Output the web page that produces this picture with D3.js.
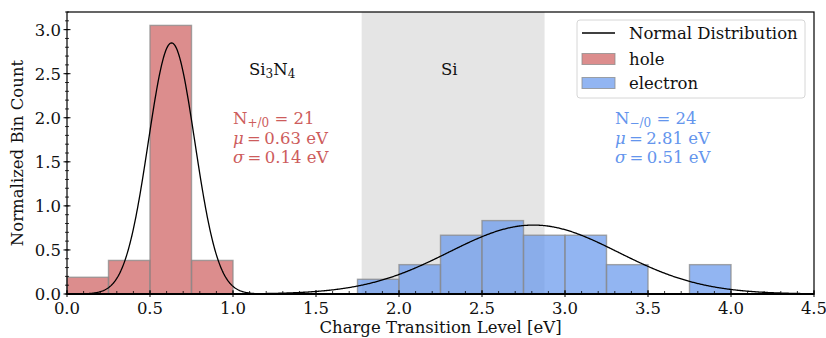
<!DOCTYPE html>
<html>
<head>
<meta charset="utf-8">
<script src="https://cdn.jsdelivr.net/npm/d3@7"></script>
<style>
  body { margin: 0; background: #fff; }
  svg { display: block; font-family: "DejaVu Serif", serif; }
</style>
</head>
<body>
<svg width="826" height="338"></svg>
<script>
  // histogram bins (normalized counts), bin width 0.25 eV
  var holeBins = [0, 0.25, 0.5, 0.75];
  var holeVals = [0.19, 0.381, 3.048, 0.381];
  var elecBins = [1.75, 2.0, 2.25, 2.5, 2.75, 3.0, 3.25, 3.5, 3.75];
  var elecVals = [0.167, 0.333, 0.667, 0.833, 0.667, 0.667, 0.333, 0, 0.333];
  var binWidth = 0.25;

  // fitted normal distributions
  var holeFit = { mu: 0.63, sigma: 0.14, n: 21 };
  var elecFit = { mu: 2.81, sigma: 0.51, n: 24 };

  // Si region
  var siBand = [1.775, 2.877];

  var xTicks = [0, 0.5, 1, 1.5, 2, 2.5, 3, 3.5, 4, 4.5];
  var yTicks = [0, 0.5, 1, 1.5, 2, 2.5, 3];

  var svg = d3.select('svg');
  var pL = 67, pR = 814, pT = 12, pB = 294;
  var fs = 16.5;

  var x = d3.scaleLinear().domain([0, 4.5]).range([pL, pR]);
  var y = d3.scaleLinear().domain([0, 3.2]).range([pB, pT]);

  // shaded Si band
  svg.append('rect')
    .attr('x', x(siBand[0])).attr('y', pT)
    .attr('width', x(siBand[1]) - x(siBand[0])).attr('height', pB - pT)
    .attr('fill', '#e5e5e5');

  function bars(bins, vals, color) {
    svg.append('g').selectAll('rect').data(bins).enter().append('rect')
      .attr('x', function(d) { return x(d); })
      .attr('y', function(d, i) { return y(vals[i]); })
      .attr('width', function(d) { return x(d + binWidth) - x(d); })
      .attr('height', function(d, i) { return pB - y(vals[i]); })
      .attr('fill', color).attr('fill-opacity', 0.7)
      .attr('stroke', '#8a8a8a').attr('stroke-opacity', 0.75).attr('stroke-width', 1.4);
  }
  bars(holeBins, holeVals, 'indianred');
  bars(elecBins, elecVals, 'cornflowerblue');

  // normal curves
  function pdf(v, f) {
    return Math.exp(-0.5 * Math.pow((v - f.mu) / f.sigma, 2)) / (f.sigma * Math.sqrt(2 * Math.PI));
  }
  var xs = d3.range(0, 4.5001, 0.005);
  var line = d3.line().x(function(d) { return x(d[0]); }).y(function(d) { return y(d[1]); });
  [holeFit, elecFit].forEach(function(f) {
    svg.append('path')
      .attr('d', line(xs.map(function(v) { return [v, pdf(v, f)]; })))
      .attr('fill', 'none').attr('stroke', 'black').attr('stroke-width', 1.3);
  });

  // frame
  svg.append('rect').attr('x', pL).attr('y', pT)
    .attr('width', pR - pL).attr('height', pB - pT)
    .attr('fill', 'none').attr('stroke', 'black').attr('stroke-width', 1.2);
  svg.append('line').attr('x1', pL).attr('x2', pR).attr('y1', pB).attr('y2', pB)
    .attr('stroke', 'black').attr('stroke-width', 2.2);

  // x axis ticks
  var xMinor = d3.range(0, 4.501, 0.1);
  svg.append('g').selectAll('line').data(xMinor).enter().append('line')
    .attr('x1', function(d) { return x(d); }).attr('x2', function(d) { return x(d); })
    .attr('y1', pB - 3).attr('y2', pB + 1)
    .attr('stroke', 'black').attr('stroke-width', 0.8);
  svg.append('g').selectAll('line').data(xTicks).enter().append('line')
    .attr('x1', function(d) { return x(d); }).attr('x2', function(d) { return x(d); })
    .attr('y1', pB - 4).attr('y2', pB + 3)
    .attr('stroke', 'black').attr('stroke-width', 1);
  svg.append('g').selectAll('text').data(xTicks).enter().append('text')
    .attr('x', function(d) { return x(d); }).attr('y', 314)
    .attr('text-anchor', 'middle').attr('font-size', fs).attr('fill', '#111')
    .text(function(d) { return d3.format('.1f')(d); });

  // y axis ticks
  var yMinor = d3.range(0, 3.201, 0.1);
  svg.append('g').selectAll('line').data(yMinor).enter().append('line')
    .attr('y1', function(d) { return y(d); }).attr('y2', function(d) { return y(d); })
    .attr('x1', pL - 2).attr('x2', pL + 2)
    .attr('stroke', 'black').attr('stroke-width', 0.8);
  svg.append('g').selectAll('line').data(yTicks).enter().append('line')
    .attr('y1', function(d) { return y(d); }).attr('y2', function(d) { return y(d); })
    .attr('x1', pL - 3.5).attr('x2', pL + 3.5)
    .attr('stroke', 'black').attr('stroke-width', 1);
  svg.append('g').selectAll('text').data(yTicks).enter().append('text')
    .attr('x', 61).attr('y', function(d) { return y(d) + 6; })
    .attr('text-anchor', 'end').attr('font-size', fs).attr('fill', '#111')
    .text(function(d) { return d3.format('.1f')(d); });

  // axis labels
  svg.append('text').attr('x', (pL + pR) / 2).attr('y', 333)
    .attr('text-anchor', 'middle').attr('font-size', fs).attr('fill', '#111')
    .text('Charge Transition Level [eV]');
  svg.append('text').attr('transform', 'translate(23,' + (pT + pB) / 2 + ') rotate(-90)')
    .attr('text-anchor', 'middle').attr('font-size', fs).attr('fill', '#111')
    .text('Normalized Bin Count');

  // region labels
  var t1 = svg.append('text').attr('x', 249).attr('y', 75).attr('font-size', fs).attr('fill', '#111');
  t1.append('tspan').text('Si');
  t1.append('tspan').attr('font-size', 12).attr('dy', 3).text('3');
  t1.append('tspan').attr('dy', -3).text('N');
  t1.append('tspan').attr('font-size', 12).attr('dy', 3).text('4');
  svg.append('text').attr('x', 441).attr('y', 75).attr('font-size', fs).attr('fill', '#111').text('Si');

  // stats
  function stats(x0, color, sub, f) {
    var g = svg.append('g').attr('fill', color).attr('font-size', fs);
    var n = g.append('text').attr('x', x0).attr('y', 124);
    n.append('tspan').text('N');
    n.append('tspan').attr('font-size', 12).attr('dy', 3).text(sub);
    n.append('tspan').attr('dy', -3).text(' = ' + f.n);
    var m = g.append('text').attr('x', x0).attr('y', 144);
    m.append('tspan').attr('font-style', 'italic').text('μ');
    m.append('tspan').text('\u2009=\u2009' + f.mu.toFixed(2) + ' eV');
    var s = g.append('text').attr('x', x0).attr('y', 163);
    s.append('tspan').attr('font-style', 'italic').text('σ');
    s.append('tspan').text('\u2009=\u2009' + f.sigma.toFixed(2) + ' eV');
  }
  stats(233, 'indianred', '+/0', holeFit);
  stats(615, 'cornflowerblue', '−/0', elecFit);

  // legend
  var lg = svg.append('g');
  lg.append('rect').attr('x', 577).attr('y', 20).attr('width', 228).attr('height', 78)
    .attr('rx', 3).attr('fill', 'white').attr('fill-opacity', 0.85)
    .attr('stroke', '#d6d6d6');
  lg.append('line').attr('x1', 582).attr('x2', 615).attr('y1', 33).attr('y2', 33)
    .attr('stroke', 'black').attr('stroke-width', 1.3);
  [['indianred', 59], ['cornflowerblue', 83]].forEach(function(e) {
    lg.append('rect').attr('x', 582).attr('y', e[1] - 5.5).attr('width', 33).attr('height', 11)
      .attr('fill', e[0]).attr('fill-opacity', 0.7)
      .attr('stroke', '#8a8a8a').attr('stroke-opacity', 0.75);
  });
  [['Normal Distribution', 33], ['hole', 59], ['electron', 83]].forEach(function(e) {
    lg.append('text').attr('x', 629).attr('y', e[1] + 6).attr('font-size', fs).attr('fill', '#111').text(e[0]);
  });
</script>
</body>
</html>
